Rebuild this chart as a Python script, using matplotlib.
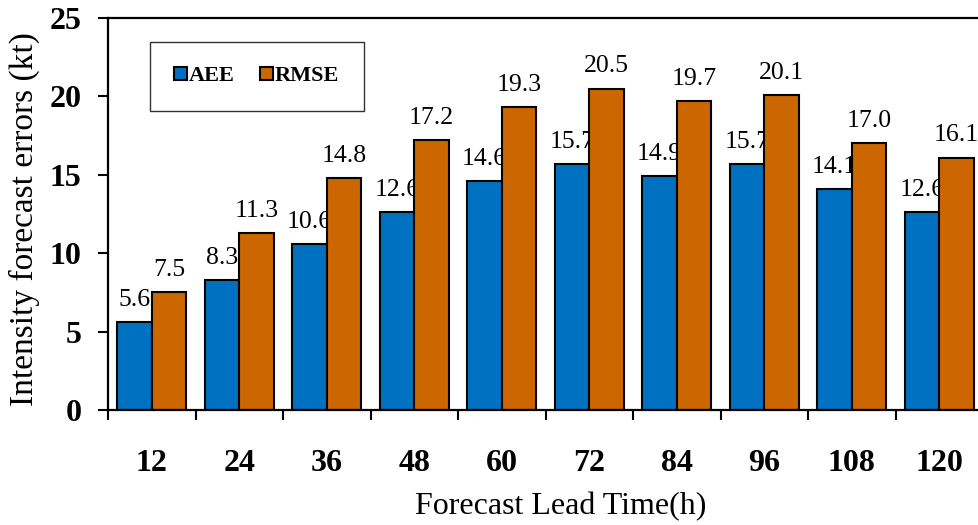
import numpy as np
import matplotlib
matplotlib.use("Agg")
import matplotlib.pyplot as plt

lead_time = ['12', '24', '36', '48', '60', '72', '84', '96', '108', '120']
aee = [5.6, 8.3, 10.6, 12.6, 14.6, 15.7, 14.9, 15.7, 14.1, 12.6]
rmse = [7.5, 11.3, 14.8, 17.2, 19.3, 20.5, 19.7, 20.1, 17.0, 16.1]

plt.rcParams['font.family'] = ['Liberation Serif', 'DejaVu Serif']

fig = plt.figure(figsize=(9.79, 5.25), dpi=100)
ax = fig.add_axes([108 / 979, 115 / 525, 875 / 979, 392 / 525])

x = np.arange(len(lead_time))
w = 0.395
b1 = ax.bar(x - w / 2, aee, w, color='#0070C0', edgecolor='black', linewidth=1.5, label='AEE', zorder=2)
b2 = ax.bar(x + w / 2, rmse, w, color='#CC6600', edgecolor='black', linewidth=1.5, label='RMSE', zorder=2)

# value labels sit behind the bars so the neighbour bar can cover them
for bars, vals in ((b1, aee), (b2, rmse)):
    for r, v in zip(bars, vals):
        ax.annotate('%.1f' % v, (r.get_x() + r.get_width() / 2, v),
                    xytext=(0, 8), textcoords='offset points',
                    ha='center', va='bottom', fontsize=18.5, zorder=1)

ax.set_xlim(-0.5, 9.5)
ax.set_ylim(0, 25)
ax.set_yticks(range(0, 26, 5))
ax.set_xticks(x)
ax.set_xticklabels(lead_time)
ax.set_xticks(np.arange(-0.5, 10, 1), minor=True)

ax.tick_params(axis='x', which='major', length=0, pad=28, labelsize=23)
ax.tick_params(axis='x', which='minor', length=7, width=1.5, direction='out')
ax.tick_params(axis='y', length=7, width=1.5, direction='out', pad=12, labelsize=23)
for lab in ax.get_xticklabels() + ax.get_yticklabels():
    lab.set_fontweight('bold')

for s in ax.spines.values():
    s.set_linewidth(1.6)

ax.set_xlabel('Forecast Lead Time(h)', fontsize=23)
ax.set_ylabel('Intensity forecast errors (kt)', fontsize=24)
ax.xaxis.set_label_coords(0.517, -0.21)
ax.yaxis.set_label_coords(-0.078, 0.488)

leg = ax.legend(loc='upper left', bbox_to_anchor=(0.048, 0.939), ncol=2,
                prop={'weight': 'bold', 'size': 16}, frameon=True, fancybox=False,
                handlelength=0.55, handleheight=0.55, handletextpad=0.1,
                columnspacing=1.15, borderpad=1.1, borderaxespad=0)
leg.get_frame().set_edgecolor('black')
leg.get_frame().set_linewidth(1.0)

plt.savefig('out.png', dpi=100)
